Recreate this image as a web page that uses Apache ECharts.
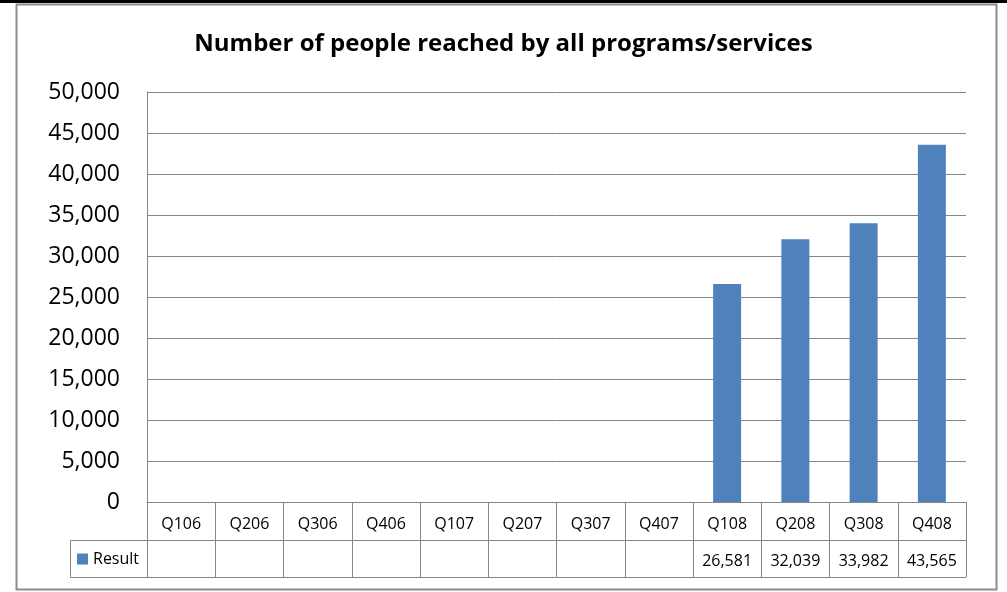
<!DOCTYPE html>
<html>
<head>
<meta charset="utf-8">
<script src="https://cdn.jsdelivr.net/npm/echarts@6/dist/echarts.min.js"></script>
<style>
  html, body { margin: 0; padding: 0; background: #fff; }
  #main { width: 1007px; height: 592px; }
</style>
</head>
<body>
<div id="main"></div>
<script>
// quarters shown in the data table
var quarters = ['Q106', 'Q206', 'Q306', 'Q406', 'Q107', 'Q207', 'Q307', 'Q407', 'Q108', 'Q208', 'Q308', 'Q408'];
// people reached, empty where no result
var results = [null, null, null, null, null, null, null, null, 26581, 32039, 33982, 43565];
var yTicks = { min: 0, max: 50000, step: 5000 };

var gridCol = '#868686';
var font = '"Open Sans", Lato, sans-serif';

function fmt(v) {
  if (v === null || v === undefined) return '';
  return String(v).replace(/\B(?=(\d{3})+(?!\d))/g, ',');
}

var myChart = echarts.init(document.getElementById('main'));

myChart.setOption({
  animation: false,
  title: {
    text: 'Number of people reached by all programs/services',
    left: 'center',
    top: 27,
    textStyle: { fontFamily: font, fontSize: 24, fontWeight: 'bold', color: '#000' }
  },
  legend: {
    left: 77,
    top: 551,
    padding: 0,
    icon: 'rect',
    itemWidth: 11,
    itemHeight: 11,
    itemGap: 4,
    data: ['Result'],
    textStyle: { fontFamily: font, fontSize: 16, color: '#000' }
  },
  grid: { left: 147, right: 41, top: 92, bottom: 90, containLabel: false },
  xAxis: [
    {
      type: 'category',
      data: quarters,
      axisLine: { lineStyle: { color: gridCol } },
      axisTick: { show: true, interval: 0, length: 75, lineStyle: { color: gridCol } },
      axisLabel: { interval: 0, margin: 14, fontFamily: font, fontSize: 16, color: '#000' }
    },
    {
      type: 'category',
      data: quarters,
      position: 'bottom',
      offset: 38,
      axisLine: { lineStyle: { color: gridCol } },
      axisTick: { show: false },
      axisLabel: {
        interval: 0, margin: 13, fontFamily: font, fontSize: 16, color: '#000',
        formatter: function (val, idx) { return fmt(results[idx]); }
      }
    },
    {
      type: 'category',
      data: quarters,
      position: 'bottom',
      offset: 75,
      axisLine: { lineStyle: { color: gridCol } },
      axisTick: { show: false },
      axisLabel: { show: false }
    }
  ],
  yAxis: {
    type: 'value',
    min: yTicks.min,
    max: yTicks.max,
    interval: yTicks.step,
    axisLine: { show: true, lineStyle: { color: gridCol } },
    axisTick: { show: false },
    splitLine: { lineStyle: { color: gridCol } },
    axisLabel: { margin: 27, fontFamily: font, fontSize: 23, color: '#000', formatter: fmt }
  },
  series: [{
    name: 'Result',
    type: 'bar',
    xAxisIndex: 0,
    barWidth: '41%',
    itemStyle: { color: '#4F81BD' },
    data: results
  }],
  graphic: [
    { type: 'rect', shape: { x: 0, y: 0, width: 1007, height: 3 }, style: { fill: '#000' }, silent: true },
    { type: 'rect', shape: { x: 16.5, y: 4.5, width: 980, height: 585 }, style: { fill: null, stroke: '#8c8c8c', lineWidth: 2 }, silent: true, z: -1 },
    // legend cell of the data table
    { type: 'polyline', shape: { points: [[147, 540.5], [70.5, 540.5], [70.5, 577.5], [147, 577.5]] }, style: { fill: null, stroke: gridCol, lineWidth: 1 }, silent: true }
  ]
});
</script>
</body>
</html>
